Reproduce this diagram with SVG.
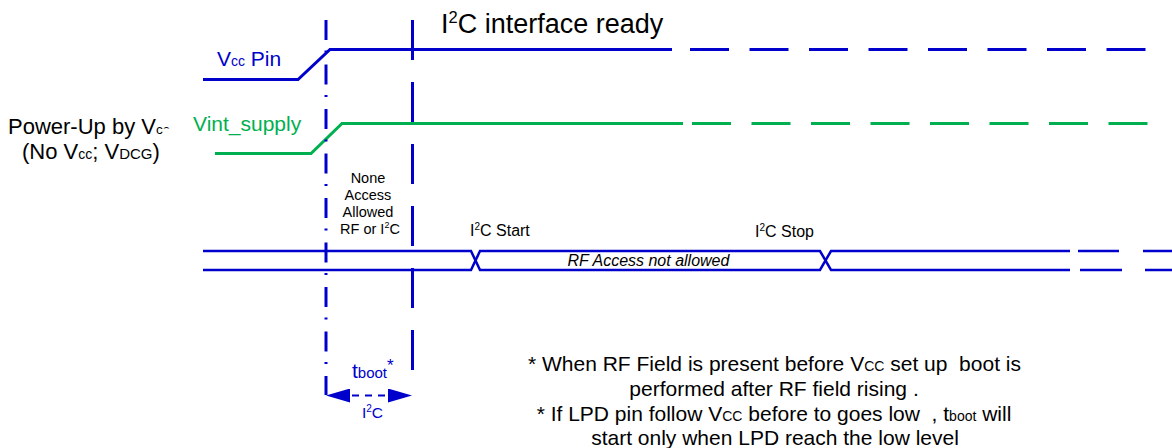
<svg xmlns="http://www.w3.org/2000/svg" width="1172" height="448" viewBox="0 0 1172 448">
<style>
text{font-family:"Liberation Sans",Arial,sans-serif;}
.blk{fill:#000}
.blue{fill:#0000CC}
.green{fill:#00B050}
.wb{fill:none;stroke:#0000CC;stroke-width:3}
.wg{fill:none;stroke:#00B050;stroke-width:3}
.bus{fill:none;stroke:#0000CC;stroke-width:2.5}
.vline{fill:none;stroke:#0000CC;stroke-width:3}
</style>
<defs>
<marker id="ah" viewBox="0 0 24 14" refX="0" refY="7" markerWidth="24" markerHeight="14" orient="auto-start-reverse" markerUnits="userSpaceOnUse">
<path d="M0 0 L24 7 L0 14 Z" fill="#0000CC"/>
</marker>
<clipPath id="cutc">
<path d="M0 0 H200 V128.5 H163 V170 H0 Z"/>
</clipPath>
</defs>

<g id="connectors">
<!-- Vcc pin waveform -->
<polyline class="wb" points="203,79.5 298,79.5 330,49.5 672,49.5"/>
<line class="wb" x1="690" y1="49.5" x2="1146" y2="49.5" stroke-dasharray="39 20.5"/>
<!-- Vint supply waveform -->
<polyline class="wg" points="215,153.5 311,153.5 342,123.5 683,123.5"/>
<line class="wg" x1="692" y1="123.5" x2="1148" y2="123.5" stroke-dasharray="39 20.5"/>
<!-- bus -->
<path class="bus" d="M203 251 H471 L480 270 H820 L831 251 H1070"/>
<path class="bus" d="M203 270 H471 L480 251 H820 L831 270 H1070"/>
<path class="bus" d="M1078 251 H1119 M1143 251 H1172 M1080 270 H1122 M1145 270 H1172"/>
<!-- timing verticals -->
<line class="vline" x1="326" y1="20" x2="326" y2="395" stroke-dasharray="20 10.5 2 12"/>
<line class="vline" x1="412.5" y1="20" x2="412.5" y2="372" stroke-dasharray="40 22"/>
<!-- tboot arrow -->
<path d="M350 395.5 H388" fill="none" stroke="#0000CC" stroke-width="2" stroke-dasharray="7 6" stroke-dashoffset="-2" marker-start="url(#ah)" marker-end="url(#ah)"/>
</g>

<g id="title">
<text class="blk" x="441" y="33" font-size="27">I<tspan font-size="16.5" dy="-10">2</tspan><tspan dy="10">C interface ready</tspan></text>
</g>

<g id="vcc-pin">
<text class="blue" x="217" y="66" font-size="21">V<tspan font-size="14">cc</tspan> Pin</text>
</g>

<g id="vint-supply">
<text class="green" x="193" y="131" font-size="21">Vint_supply</text>
</g>

<g id="power-up">
<text class="blk" x="8" y="134" font-size="22" clip-path="url(#cutc)">Power-Up by V<tspan font-size="13.5">cc</tspan></text>
<text class="blk" x="22" y="159" font-size="22">(No V<tspan font-size="14">cc</tspan>; V<tspan font-size="15">DCG</tspan>)</text>
</g>

<g id="none-access">
<text class="blk" font-size="14.5" text-anchor="middle">
<tspan x="370" y="183">None</tspan>
<tspan x="370" y="200">Access</tspan>
<tspan x="370" y="217">Allowed</tspan>
<tspan x="370" y="233.5">RF or I<tspan font-size="9" dy="-5.5">2</tspan><tspan dy="5.5">C</tspan></tspan>
</text>
</g>

<g id="i2c-start">
<text class="blk" x="470" y="236" font-size="16">I<tspan font-size="10" dy="-6">2</tspan><tspan dy="6">C Start</tspan></text>
</g>

<g id="i2c-stop">
<text class="blk" x="755" y="237" font-size="16">I<tspan font-size="10" dy="-6">2</tspan><tspan dy="6">C Stop</tspan></text>
</g>

<g id="rf-not-allowed">
<text class="blk" x="648.5" y="266" font-size="16" font-style="italic" text-anchor="middle">RF Access not allowed</text>
</g>

<g id="tboot">
<text class="blue" x="352" y="378" font-size="21">t<tspan font-size="15">boot</tspan><tspan font-size="17" dy="-7">*</tspan></text>
<text class="blue" x="372.5" y="418" font-size="15.5" text-anchor="middle">I<tspan font-size="10" dy="-6">2</tspan><tspan dy="6">C</tspan></text>
</g>

<g id="footnote">
<text class="blk" font-size="21" text-anchor="middle" xml:space="preserve"><tspan x="774.5" y="371">* When RF Field is present before V<tspan font-size="14">CC</tspan> set up  boot is</tspan></text>
<text class="blk" font-size="21" text-anchor="middle" xml:space="preserve"><tspan x="774" y="396">performed after RF field rising .</tspan></text>
<text class="blk" font-size="21" text-anchor="middle" xml:space="preserve"><tspan x="774" y="421">* If LPD pin follow V<tspan font-size="14">CC</tspan> before to goes low  , t<tspan font-size="14">boot</tspan> will</tspan></text>
<text class="blk" font-size="21" text-anchor="middle" xml:space="preserve"><tspan x="775" y="445">start only when LPD reach the low level</tspan></text>
</g>
</svg>
